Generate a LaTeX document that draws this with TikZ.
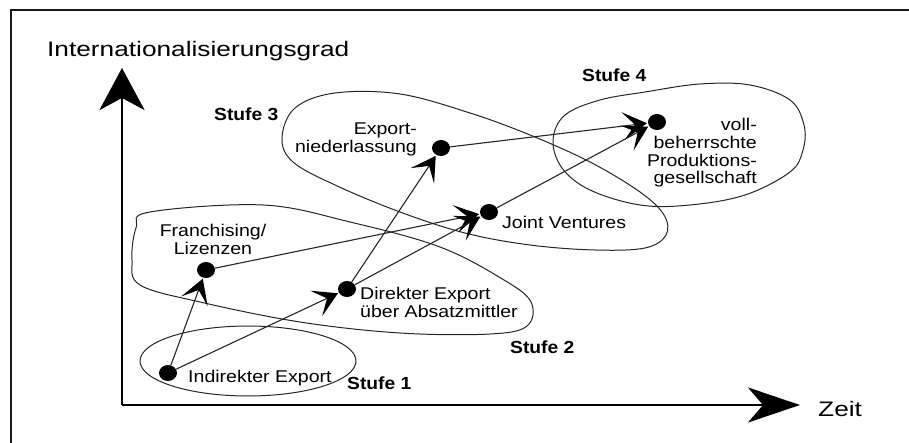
\documentclass[tikz,border=0pt]{standalone}
\usepackage{fontspec}
\setmainfont{Liberation Sans}
\newfontfamily\lblfont[FakeStretch=1.15]{Liberation Sans}
\newfontfamily\axfont[FakeStretch=1.25]{Liberation Sans}
\newfontfamily\stfont[FakeStretch=1.1]{Liberation Sans}
\usetikzlibrary{arrows.meta,shapes.geometric}

\begin{document}
\begin{tikzpicture}[x=1pt,y=-1pt,
  dot/.style={ellipse,fill=black,minimum width=18pt,minimum height=16pt,inner sep=0pt},
  lbl/.style={inner sep=0pt,font=\lblfont\fontsize{17}{17.8}\selectfont},
  stufe/.style={inner sep=0pt,anchor=base west,font=\stfont\bfseries\fontsize{17.5}{18}\selectfont},
  axlbl/.style={inner sep=0pt,anchor=base west,font=\axfont\fontsize{21}{22}\selectfont},
  blob/.style={line width=1pt,black!85},
  conn/.style={line width=1.1pt,black!85,shorten >=1pt,
    -{Stealth[length=24pt,width=28pt,inset=12pt,black,line width=1.8pt]}},
  axis/.style={line width=2.6pt,black}
]
\useasboundingbox (0,0) rectangle (909,443);
\clip (0,0) rectangle (909,443);

% outer frame (only its top and left edges fall inside the page)
\draw[line width=2pt,black!90] (11,470) -- (11,10) -- (940,10);

% axes
\coordinate (O) at (122,405);
\coordinate (ytip) at (122,68);
\coordinate (xtip) at (800,405);
\draw[axis,-{Stealth[length=42pt,width=45pt,inset=12pt]}] (O) -- (ytip);
\draw[axis,-{Stealth[length=52pt,width=35pt,inset=15pt]}] (O) -- (xtip);
\node[axlbl] (ylab) at (47,57) {Internationalisierungsgrad};
\node[axlbl] (xlab) at (818,416) {Zeit};

% stage regions
\draw[blob] (248,361) ellipse [x radius=108, y radius=35];
\draw[blob] plot[smooth cycle,tension=0.6] coordinates {
  (150,212) (263,205) (350,222) (440,247) (504,280) (531,302) (527,326)
  (490,334) (400,333) (300,322) (200,302) (140,285) (132,260) (136,228)};
\draw[blob] plot[smooth cycle,tension=0.6] coordinates {
  (282,138) (295,108) (335,93) (400,94) (470,113) (530,135) (590,162)
  (640,192) (664,215) (666,235) (645,248) (595,250) (530,245) (465,233)
  (400,212) (335,185) (293,162)};
\draw[blob] plot[smooth cycle,tension=0.6] coordinates {
  (553,140) (565,115) (600,100) (645,92) (700,84) (750,85) (790,100)
  (804,125) (803,150) (790,172) (745,195) (690,205) (640,205) (590,190)
  (562,168)};

% stage labels
\node[stufe] (s1) at (347,389) {Stufe 1};
\node[stufe] (s2) at (510,353) {Stufe 2};
\node[stufe] (s3) at (214,121) {Stufe 3};
\node[stufe] (s4) at (582,82) {Stufe 4};

% entry modes
\node[dot] (ind) at (168,373) {};
\node[dot] (fra) at (206,270) {};
\node[dot] (dir) at (347,289) {};
\node[dot] (exn) at (441,148) {};
\node[dot] (jv)  at (489,212) {};
\node[dot] (prod) at (657,122) {};

\node[lbl,anchor=base west] (tind) at (188,382) {Indirekter Export};
\node[lbl,anchor=north,align=center] (tfra) at (213,224) {Franchising/\\Lizenzen};
\node[lbl,anchor=north west,align=left] (tdir) at (360,287) {Direkter Export\\über Absatzmittler};
\node[lbl,anchor=north east,align=right] (texn) at (417,123) {Export-\\niederlassung};
\node[lbl,anchor=base west] (tjv) at (502,229) {Joint Ventures};
\node[lbl,anchor=north east,align=right] (tprod) at (757,118) {voll-\\beherrschte\\Produktions-\\gesellschaft};

% development paths
\draw[conn] (ind) -- (fra);
\draw[conn] (ind) -- (dir);
\draw[conn] (fra) -- (jv);
\draw[conn] (dir) -- (exn);
\draw[conn] (dir) -- (jv);
\draw[conn] (exn) -- (prod);
\draw[conn] (jv) -- (prod);
\end{tikzpicture}
\end{document}
